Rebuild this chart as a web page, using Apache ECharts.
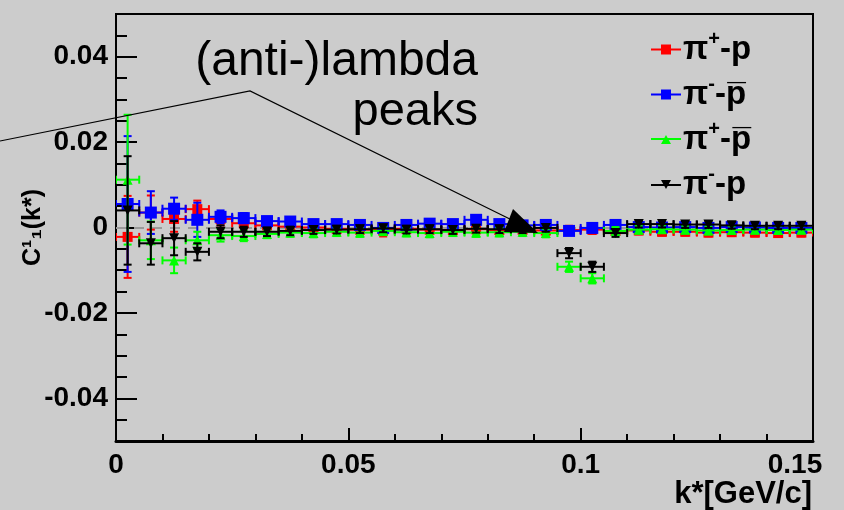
<!DOCTYPE html>
<html><head><meta charset="utf-8">
<script src="https://cdn.jsdelivr.net/npm/echarts@6/dist/echarts.min.js"></script>
<style>html,body{margin:0;padding:0;background:#cccccc}#c{width:844px;height:510px}</style>
</head><body><div id="c"></div>
<script>
// ---- data ----
const kStar = [0.0025,0.0075,0.0125,0.0175,0.0225,0.0275,0.0325,0.0375,0.0425,0.0475,
               0.0525,0.0575,0.0625,0.0675,0.0725,0.0775,0.0825,0.0875,0.0925,0.0975,
               0.1025,0.1075,0.1125,0.1175,0.1225,0.1275,0.1325,0.1375,0.1425,0.1475];
const kHalfWidth = 0.0025;
const seriesNames = ['π⁺-p', 'π⁻-p̄', 'π⁺-p̄', 'π⁻-p'];
const yTickLabels = [-0.04, -0.02, 0, 0.02, 0.04];
const xTickLabels = [0, 0.05, 0.1, 0.15];

const redVals = [-0.0022,0.0035,0.0020,0.0043,0.0020,0.0010,0.0005,0.0002,0.0000,-0.0003,
                 -0.0005,-0.0006,-0.0003,-0.0005,-0.0006,-0.0004,-0.0006,-0.0005,-0.0007,-0.0006,
                 -0.0005,-0.0008,-0.0007,-0.0010,-0.0010,-0.0012,-0.0011,-0.0012,-0.0013,-0.0012];
const redErr  = [0.0096,0.0040,0.0030,0.0020,0.0015,0.0012,0.0010,0.0012,0.0011,0.0010,
                 0.0010,0.0015,0.0010,0.0010,0.0010,0.0010,0.0010,0.0010,0.0010,0.0010,
                 0.0010,0.0010,0.0009,0.0009,0.0009,0.0009,0.0009,0.0009,0.0009,0.0009];

const blueVals = [0.0055,0.0035,0.0044,0.0018,0.0025,0.0022,0.0015,0.0014,0.0008,0.0008,
                  0.0006,-0.0001,0.0006,0.0009,0.0008,0.0018,0.0008,0.0005,0.0006,-0.0008,
                  -0.0001,0.0006,0.0001,0.0000,0.0001,-0.0001,0.0001,0.0000,-0.0001,-0.0001];
const blueErr  = [0.0159,0.0050,0.0026,0.0040,0.0015,0.0012,0.0010,0.0010,0.0009,0.0009,
                  0.0009,0.0009,0.0009,0.0009,0.0009,0.0009,0.0009,0.0009,0.0009,0.0009,
                  0.0009,0.0008,0.0008,0.0008,0.0008,0.0008,0.0008,0.0008,0.0008,0.0008];

const greenVals = [0.0112,-0.0030,-0.0077,-0.0030,-0.0018,-0.0020,-0.0015,-0.0012,-0.0013,-0.0010,
                   -0.0012,-0.0008,-0.0011,-0.0013,-0.0010,-0.0012,-0.0011,-0.0010,-0.0013,-0.0092,
                   -0.0119,-0.0008,-0.0005,-0.0004,-0.0005,-0.0007,-0.0006,-0.0005,-0.0006,-0.0005];
const greenErr  = [0.0152,0.0044,0.0030,0.0020,0.0015,0.0012,0.0010,0.0010,0.0010,0.0010,
                   0.0010,0.0010,0.0010,0.0010,0.0010,0.0010,0.0010,0.0010,0.0010,0.0012,
                   0.0012,0.0009,0.0009,0.0009,0.0009,0.0009,0.0009,0.0009,0.0009,0.0009];

const blackVals = [0.0040,-0.0037,-0.0025,-0.0057,-0.0010,-0.0010,-0.0010,-0.0008,-0.0006,-0.0005,
                   -0.0004,-0.0002,-0.0005,-0.0004,-0.0006,-0.0003,-0.0004,-0.0004,-0.0001,-0.0060,
                   -0.0092,-0.0013,0.0008,0.0008,0.0007,0.0007,0.0005,0.0004,0.0004,0.0004];
const blackErr  = [0.0127,0.0050,0.0040,0.0020,0.0015,0.0012,0.0010,0.0010,0.0009,0.0009,
                   0.0009,0.0009,0.0009,0.0009,0.0009,0.0009,0.0009,0.0009,0.0009,0.0012,
                   0.0012,0.0009,0.0008,0.0008,0.0008,0.0008,0.0008,0.0008,0.0008,0.0008];

// ---- chart ----
const colors = ['#ff0000', '#0000ff', '#00ff00', '#000000'];
const valsList = [redVals, blueVals, greenVals, blackVals];
const errList = [redErr, blueErr, greenErr, blackErr];
const symbols = ['rect', 'rect', 'triangle', 'path://M0,0L10,0L5,9Z'];
const symbolSizes = [10, 12, 10, 10];
const legendIcons = [
  'path://M0,5L30,5L30,7L0,7Z M10,1L20,1L20,11L10,11Z',
  'path://M0,5L30,5L30,7L0,7Z M10,1L20,1L20,11L10,11Z',
  'path://M0,5L30,5L30,7L0,7Z M10,11L15,2L20,11Z',
  'path://M0,5L30,5L30,7L0,7Z M10,1L20,1L15,10Z'
];
const legendRich = {
  'π⁺-p': '{t|π}{s|+}{t|-p}',
  'π⁻-p̄': '{t|π}{s|-}{t|-p\u0305}',
  'π⁺-p̄': '{t|π}{s|+}{t|-p\u0305}',
  'π⁻-p': '{t|π}{s|-}{t|-p}'
};

const FONT = 'Liberation Sans, Arial, Helvetica, sans-serif';
const series = [];
seriesNames.forEach((name, i) => {
  const col = colors[i];
  series.push({
    name: 'err' + i,
    type: 'custom',
    xAxisIndex: 0, yAxisIndex: 0,
    clip: true,
    silent: true,
    z: 2 + i * 2,
    data: kStar.map((k, j) => [k, valsList[i][j], errList[i][j]]),
    renderItem: function (params, api) {
      const x = api.value(0), y = api.value(1), e = api.value(2);
      const l = api.coord([x - kHalfWidth, y]);
      const r = api.coord([x + kHalfWidth, y]);
      const t = api.coord([x, y + e]);
      const b = api.coord([x, y - e]);
      const cap = 4;
      const st = { stroke: col, lineWidth: 2 };
      const ln = (x1, y1, x2, y2) => ({ type: 'line', shape: { x1, y1, x2, y2 }, style: st });
      return {
        type: 'group',
        children: [
          ln(l[0], l[1], r[0], r[1]),
          ln(t[0], t[1], b[0], b[1]),
          ln(t[0] - cap, t[1], t[0] + cap, t[1]),
          ln(b[0] - cap, b[1], b[0] + cap, b[1]),
          ln(l[0], l[1] - cap, l[0], l[1] + cap),
          ln(r[0], r[1] - cap, r[0], r[1] + cap)
        ]
      };
    }
  });
  const sc = {
    name: name,
    type: 'scatter',
    xAxisIndex: 0, yAxisIndex: 0,
    z: 3 + i * 2,
    symbol: symbols[i],
    symbolSize: symbolSizes[i],
    itemStyle: { color: col, opacity: 1 },
    data: kStar.map((k, j) => [k, valsList[i][j]])
  };
  if (i === 0) {
    sc.markLine = {
      silent: true, symbol: 'none', z: 1,
      label: { show: false },
      lineStyle: { color: '#9a9a9a', type: [10, 8], width: 2 },
      data: [{ yAxis: 0 }]
    };
  }
  series.push(sc);
});

const chart = echarts.init(document.getElementById('c'), null, { renderer: 'canvas' });
chart.setOption({
  backgroundColor: '#cccccc',
  animation: false,
  grid: { left: 116, right: 31, top: 14, bottom: 69, show: true, borderColor: '#000', borderWidth: 2, backgroundColor: 'transparent' },
  legend: {
    data: seriesNames.map((n, i) => ({ name: n, icon: legendIcons[i] })),
    orient: 'vertical',
    left: 646, top: 24,
    itemWidth: 30, itemHeight: 12, itemGap: 8,
    selectedMode: false,
    formatter: n => legendRich[n],
    textStyle: {
      padding: [0, 0, 0, -3],
      rich: {
        t: { fontFamily: FONT, fontWeight: 'bold', fontSize: 33, color: '#000', lineHeight: 41 },
        s: { fontFamily: FONT, fontWeight: 'bold', fontSize: 20, color: '#000', verticalAlign: 'top', lineHeight: 18 }
      }
    }
  },
  xAxis: [{
    type: 'value', min: 0, max: 0.15, interval: 0.05,
    axisLine: { show: true, onZero: false, lineStyle: { color: '#000', width: 3 } },
    axisTick: { show: true, inside: true, length: 13, lineStyle: { color: '#000', width: 2 } },
    minorTick: { show: true, splitNumber: 5, length: 7, lineStyle: { color: '#000', width: 2 } },
    splitLine: { show: false },
    axisLabel: {
      margin: 10, color: '#000', fontFamily: FONT, fontWeight: 'bold', fontSize: 28,
      customValues: xTickLabels,
      formatter: v => {
        const s = String(+v.toFixed(3));
        return v >= 0.149 ? '{m|' + s + '}' : s;
      },
      rich: { m: { fontFamily: FONT, fontWeight: 'bold', fontSize: 28, color: '#000', padding: [0, 36, 0, 0] } }
    }
  }],
  yAxis: [{
    type: 'value', min: -0.05, max: 0.05, interval: 0.005,
    axisLine: { show: true, onZero: false, lineStyle: { color: '#000', width: 2 } },
    axisTick: { show: true, inside: true, length: 11, lineStyle: { color: '#000', width: 2 } },
    splitLine: { show: false },
    axisLabel: { show: false },
    name: 'C¹₁(k*)',
    nameLocation: 'middle', nameRotate: 90, nameGap: 70,
    nameTextStyle: { color: '#000', fontFamily: FONT, fontWeight: 'bold', fontSize: 25 }
  }, {
    type: 'value', min: -0.05, max: 0.05, position: 'left', offset: 0,
    axisLine: { show: false },
    axisTick: { show: true, inside: true, length: 21, customValues: yTickLabels, lineStyle: { color: '#000', width: 2 } },
    splitLine: { show: false },
    axisLabel: {
      show: true, margin: 8, color: '#000', fontFamily: FONT, fontWeight: 'bold', fontSize: 28,
      customValues: yTickLabels,
      formatter: v => String(+v.toFixed(3))
    }
  }],
  series: series,
  graphic: [
    { type: 'polyline', z: 100, shape: { points: [[0, 141], [250, 91], [522, 225]] }, style: { stroke: '#000', lineWidth: 1.2, fill: null } },
    { type: 'polygon', z: 100, shape: { points: [[513, 209], [538, 233], [504, 232]] }, style: { fill: '#000' } },
    { type: 'text', z: 100, x: 478, y: 62, style: { text: '(anti-)lambda', fontFamily: FONT, fontSize: 48, fill: '#000', align: 'right', verticalAlign: 'middle' } },
    { type: 'text', z: 100, x: 478, y: 112, style: { text: 'peaks', fontFamily: FONT, fontSize: 47, fill: '#000', align: 'right', verticalAlign: 'middle' } },
    { type: 'text', z: 100, x: 812, y: 494, style: { text: 'k*[GeV/c]', fontFamily: FONT, fontWeight: 'bold', fontSize: 31, fill: '#000', align: 'right', verticalAlign: 'middle' } }
  ]
});
</script>
</body></html>
